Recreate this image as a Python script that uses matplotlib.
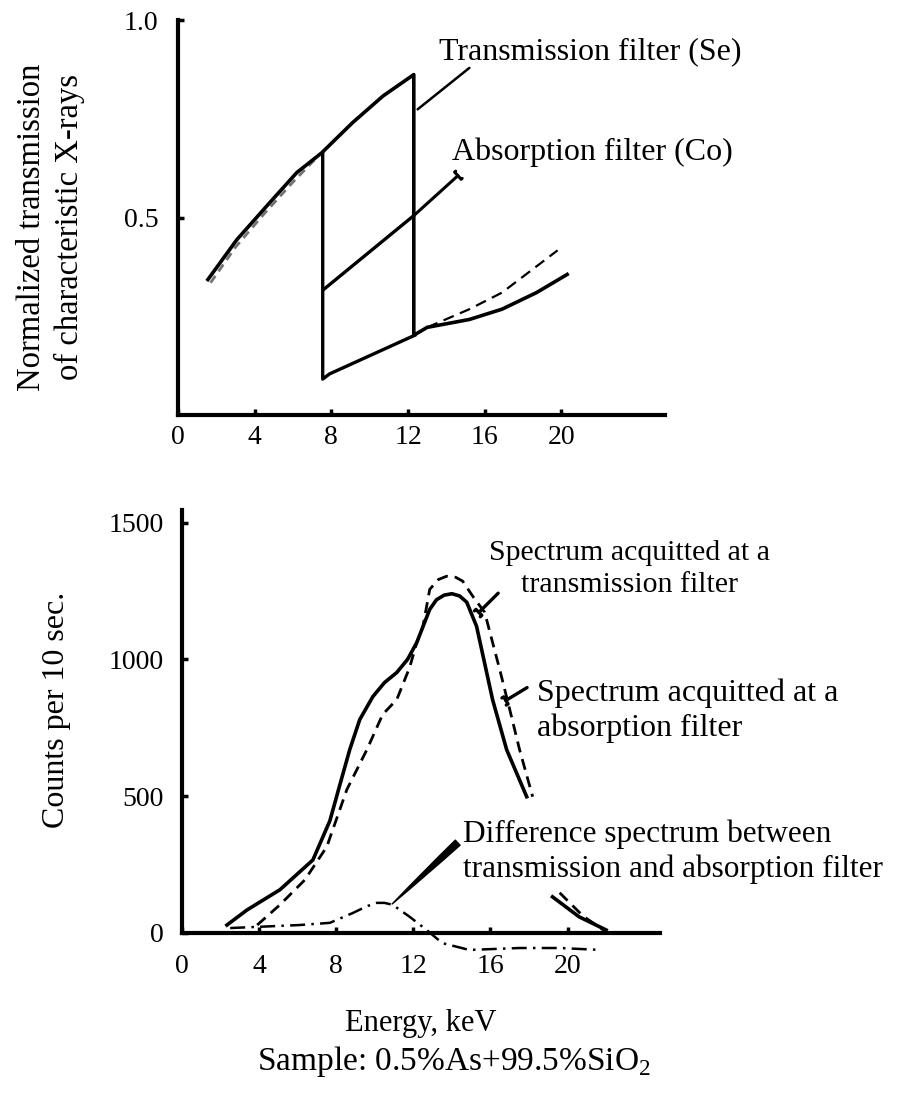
import matplotlib
matplotlib.use("Agg")
import matplotlib.pyplot as plt

plt.rcParams['font.family'] = ['Liberation Serif', 'DejaVu Serif']
plt.rcParams['mathtext.fontset'] = 'custom'
plt.rcParams['mathtext.rm'] = 'Liberation Serif'

# ---- top panel: normalized transmission
se_x = [1.56, 3.07, 4.79, 6.2, 7.5, 9.1, 10.7, 12.3, 12.3, 13.0, 15.2, 16.9, 18.7, 20.3]
se_y = [0.343, 0.444, 0.538, 0.614, 0.664, 0.740, 0.808, 0.862, 0.202, 0.222, 0.242, 0.268, 0.310, 0.356]
se_dash_x = [1.7, 3.0, 4.5, 6.0, 7.2]
se_dash_y = [0.335, 0.425, 0.510, 0.590, 0.650]
tail_dash_x = [13.0, 15.2, 16.9, 19.8]
tail_dash_y = [0.222, 0.268, 0.310, 0.417]
co_drop_x = [7.55, 7.55, 7.9, 12.35]
co_drop_y = [0.664, 0.091, 0.104, 0.202]
co_mid_x = [7.6, 12.3]
co_mid_y = [0.318, 0.505]
top_xticks = [0, 4, 8, 12, 16, 20]
top_yticks = [0.5, 1.0]

# ---- bottom panel: counts per 10 s
tr_x = [2.33, 3.37, 5.08, 6.79, 7.67, 8.19, 8.70, 9.22, 9.90, 10.5, 11.14, 11.7, 12.18,
        12.85, 13.2, 13.6, 14.0, 14.4, 14.77, 15.28, 16.11, 16.84, 17.88]
tr_y = [29, 84, 158, 267, 410, 542, 670, 780, 864, 915, 952, 1000, 1062,
        1183, 1218, 1235, 1240, 1232, 1209, 1121, 853, 670, 498]
tr_tail_x = [19.22, 20.6, 22.0]
tr_tail_y = [132, 59, 11]
ab_x = [3.9, 5.08, 6.37, 7.51, 8.55, 9.59, 10.41, 11.14, 11.81, 12.18, 12.5,
        12.85, 13.3, 13.73, 14.2, 14.56, 15.08, 15.7, 16.48, 17.0, 17.51, 18.19]
ab_y = [29, 103, 194, 315, 524, 670, 799, 853, 971, 1062, 1121,
        1256, 1292, 1304, 1300, 1286, 1231, 1172, 963, 817, 670, 498]
ab_tail_x = [19.59, 20.8, 22.0]
ab_tail_y = [147, 62, 4]
df_x = [2.5, 6.1, 7.67, 8.86, 9.6, 10.1, 10.5, 10.93, 11.81, 12.69, 13.5, 14.9, 17.5, 19.6, 21.7]
df_y = [18, 29, 37, 73, 98, 110, 110, 103, 59, 11, -37, -62, -55, -55, -62]
bot_xticks = [0, 4, 8, 12, 16, 20]
bot_yticks = [0, 500, 1000, 1500]

fig = plt.figure(figsize=(8.97, 10.98), dpi=100)

# top axes
ax1 = fig.add_axes([0.1984, 0.622, 0.5429, 0.3597])
ax1.plot(se_dash_x, se_dash_y, color='0.45', lw=2.0, ls=(0, (3, 2)))
ax1.plot(se_x, se_y, color='k', lw=2.6, solid_joinstyle='round')
ax1.plot(tail_dash_x, tail_dash_y, color='k', lw=1.6, ls=(0, (5, 3)))
ax1.plot(co_drop_x, co_drop_y, color='k', lw=2.4, solid_joinstyle='round')
ax1.plot(co_mid_x, co_mid_y, color='k', lw=2.4)
ax1.annotate('', xy=(14.6, 0.606), xytext=(12.3, 0.505),
             arrowprops=dict(arrowstyle='-[, widthB=0.35, lengthB=0.1', lw=2.2, color='k',
                             shrinkA=0, shrinkB=0))
ax1.annotate('', xy=(15.2, 0.879), xytext=(12.5, 0.774),
             arrowprops=dict(arrowstyle='-', lw=1.8, color='k', shrinkA=0, shrinkB=0))
ax1.text(13.6, 0.92, 'Transmission filter (Se)', fontsize=23, va='center', ha='left')
ax1.text(14.3, 0.666, 'Absorption filter (Co)', fontsize=23, va='center', ha='left')
ax1.set_xlim(0, 25.4)
ax1.set_ylim(0, 0.995)
ax1.set_xticks(top_xticks)
ax1.set_xticklabels([str(t) for t in top_xticks])
ax1.set_yticks(top_yticks)
ax1.set_yticklabels(['0.5', '1.0'])
ax1.tick_params(axis='both', direction='in', length=4, width=2.5, labelsize=20)
ax1.tick_params(axis='x', pad=7)
ax1.tick_params(axis='y', pad=14)
for s in ['top', 'right']:
    ax1.spines[s].set_visible(False)
for s in ['left', 'bottom']:
    ax1.spines[s].set_linewidth(3.0)
ax1.set_ylabel('Normalized transmission\nof characteristic X-rays', fontsize=23.5,
               linespacing=1.3, va='center')
ax1.yaxis.set_label_coords(-0.261, 0.476)

# bottom axes
ax2 = fig.add_axes([0.2029, 0.1503, 0.533, 0.3852])
ax2.plot(tr_x, tr_y, color='k', lw=2.6, solid_joinstyle='round')
ax2.plot(tr_tail_x, tr_tail_y, color='k', lw=2.6, solid_joinstyle='round')
ax2.plot(ab_x, ab_y, color='k', lw=2.0, ls=(0, (4, 2.5)))
ax2.plot(ab_tail_x, ab_tail_y, color='k', lw=2.0, ls=(0, (4, 2.5)))
ax2.plot(df_x, df_y, color='k', lw=1.8, ls=(0, (6, 2.5, 1, 2.5)), clip_on=False)

ax2.annotate('', xy=(15.4, 1172), xytext=(16.4, 1242),
             arrowprops=dict(arrowstyle='-[, widthB=0.3, lengthB=0.15', lw=2.4, color='k',
                             shrinkA=0, shrinkB=0))
ax2.annotate('', xy=(16.8, 850), xytext=(17.9, 897),
             arrowprops=dict(arrowstyle='-[, widthB=0.3, lengthB=0.15', lw=2.4, color='k',
                             shrinkA=0, shrinkB=0))
ax2.annotate('', xy=(10.9, 106), xytext=(14.3, 330),
             arrowprops=dict(arrowstyle='wedge, tail_width=0.5, shrink_factor=0.6',
                             color='k', shrinkA=0, shrinkB=0))
ax2.text(23.2, 1330, 'Spectrum acquitted at a\ntransmission filter', fontsize=21.5,
         ha='center', va='center', linespacing=1.3)
ax2.text(18.4, 813, 'Spectrum acquitted at a\nabsorption filter', fontsize=23,
         ha='left', va='center', linespacing=1.25)
ax2.text(14.56, 297, 'Difference spectrum between\ntransmission and absorption filter',
         fontsize=22.5, ha='left', va='center', linespacing=1.25)

ax2.set_xlim(0, 24.8)
ax2.set_ylim(0, 1546)
ax2.set_xticks(bot_xticks)
ax2.set_xticklabels([str(t) for t in bot_xticks])
ax2.set_yticks(bot_yticks)
ax2.set_yticklabels([str(t) for t in bot_yticks])
ax2.tick_params(axis='both', direction='in', length=4, width=2.5, labelsize=20)
ax2.tick_params(axis='x', pad=15)
ax2.tick_params(axis='y', pad=13)
for s in ['top', 'right']:
    ax2.spines[s].set_visible(False)
for s in ['left', 'bottom']:
    ax2.spines[s].set_linewidth(3.0)
ax2.set_ylabel('Counts per 10 sec.', fontsize=23, va='center')
ax2.yaxis.set_label_coords(-0.2615, 0.527)
ax2.set_xlabel('Energy, keV', fontsize=22, labelpad=22)

fig.text(0.506, 0.033, 'Sample: 0.5%As+99.5%SiO$_2$', fontsize=24, ha='center', va='center')

fig.savefig('out.png', dpi=100)
